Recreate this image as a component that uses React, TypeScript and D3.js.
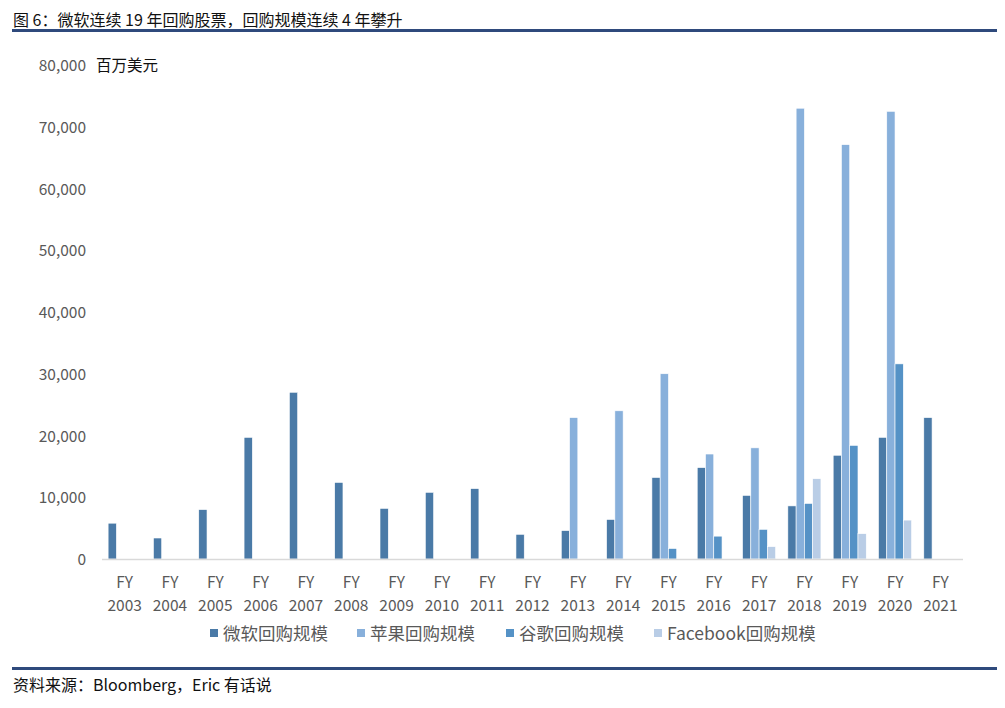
import React, { useEffect, useRef } from 'react';
import * as d3 from 'd3';

const years = ['2003', '2004', '2005', '2006', '2007', '2008', '2009', '2010', '2011', '2012',
  '2013', '2014', '2015', '2016', '2017', '2018', '2019', '2020', '2021'];
const seriesNames = ['微软回购规模', '苹果回购规模', '谷歌回购规模', 'Facebook回购规模'];
const colors = ['#4a7aa7', '#88b0db', '#5592c6', '#b9cde6'];

const microsoft = [5800, 3400, 8000, 19700, 27000, 12400, 8200, 10800, 11400, 4000,
  4600, 6400, 13200, 14800, 10300, 8600, 16800, 19700, 22900];
const apple = [0, 0, 0, 0, 0, 0, 0, 0, 0, 0,
  22900, 24000, 30000, 17000, 18000, 73000, 67100, 72500, 0];
const google = [0, 0, 0, 0, 0, 0, 0, 0, 0, 0,
  0, 0, 1700, 3700, 4800, 9000, 18400, 31600, 0];
const facebook = [0, 0, 0, 0, 0, 0, 0, 0, 0, 0,
  0, 0, 0, 0, 2000, 13000, 4100, 6300, 0];
const yTicks = [0, 10000, 20000, 30000, 40000, 50000, 60000, 70000, 80000];

const FONT = '"Noto Sans CJK SC", "Noto Sans", sans-serif';

const App = () => {
  const svgRef = useRef(null);

  useEffect(() => {
    const svg = d3.select(svgRef.current);
    svg.selectAll('*').remove();

    const width = 1005, height = 708;
    const left = 102, right = 963, top = 65, bottom = 559;
    const allSeries = [microsoft, apple, google, facebook];

    const x = d3.scaleBand().domain(years).range([left, right]);
    const y = d3.scaleLinear().domain([0, 80000]).range([bottom, top]);
    const bw = x.bandwidth();
    const x1 = d3.scaleBand().domain(d3.range(4).map(String))
      .range([bw * 0.135, bw * 0.865]);

    svg.attr('width', width).attr('height', height);
    svg.append('rect').attr('width', width).attr('height', height).attr('fill', '#fff');

    // title
    svg.append('text').attr('x', 13).attr('y', 26)
      .attr('font-family', FONT).attr('font-size', 16).attr('fill', '#111')
      .text('图 6：微软连续 19 年回购股票，回购规模连续 4 年攀升');
    svg.append('line').attr('x1', 12).attr('x2', 997).attr('y1', 30.5).attr('y2', 30.5)
      .attr('stroke', '#2f4a7c').attr('stroke-width', 3);

    // y axis labels
    svg.append('g').selectAll('text').data(yTicks).join('text')
      .attr('x', 86).attr('y', d => y(d) + 6)
      .attr('text-anchor', 'end')
      .attr('font-family', FONT).attr('font-size', 15.5).attr('fill', '#595959')
      .text(d => d3.format(',')(d));
    svg.append('text').attr('x', 96).attr('y', 71)
      .attr('font-family', FONT).attr('font-size', 15.5).attr('fill', '#111')
      .text('百万美元');

    // bars
    allSeries.forEach((vals, si) => {
      svg.append('g').selectAll('rect').data(vals).join('rect')
        .attr('x', (d, i) => (x(years[i]) as number) + (x1(String(si)) as number))
        .attr('width', x1.bandwidth())
        .attr('y', d => y(d))
        .attr('height', d => bottom - y(d))
        .attr('fill', colors[si])
        .attr('stroke', '#fff').attr('stroke-width', 0.6)
        .attr('display', d => (d > 0 ? null : 'none'));
    });

    // x axis
    svg.append('line').attr('x1', left).attr('x2', right).attr('y1', bottom + 0.5).attr('y2', bottom + 0.5)
      .attr('stroke', '#d9d9d9').attr('stroke-width', 1.5);
    const xl = svg.append('g').selectAll('g').data(years).join('g')
      .attr('transform', d => `translate(${(x(d) as number) + bw / 2},0)`);
    xl.append('text').attr('y', 588).attr('text-anchor', 'middle')
      .attr('font-family', FONT).attr('font-size', 15.5).attr('fill', '#595959').text('FY');
    xl.append('text').attr('y', 611).attr('text-anchor', 'middle')
      .attr('font-family', FONT).attr('font-size', 15.5).attr('fill', '#595959').text(d => d);

    // legend
    const legendX = [210, 357, 506, 654];
    const lg = svg.append('g').selectAll('g').data(seriesNames).join('g')
      .attr('transform', (d, i) => `translate(${legendX[i]},633)`);
    lg.append('rect').attr('x', 0).attr('y', -4).attr('width', 8).attr('height', 8)
      .attr('fill', (d, i) => colors[i]);
    lg.append('text').attr('x', 13).attr('y', 6.5)
      .attr('font-family', FONT).attr('font-size', 17.5).attr('fill', '#595959').text(d => d);

    // source
    svg.append('line').attr('x1', 12).attr('x2', 997).attr('y1', 668.5).attr('y2', 668.5)
      .attr('stroke', '#2f4a7c').attr('stroke-width', 3);
    svg.append('text').attr('x', 13).attr('y', 691)
      .attr('font-family', FONT).attr('font-size', 16).attr('fill', '#111')
      .text('资料来源：Bloomberg，Eric 有话说');
  }, []);

  return <svg ref={svgRef} style={{ position: 'absolute', left: 0, top: 0 }}></svg>;
};

export default App;
